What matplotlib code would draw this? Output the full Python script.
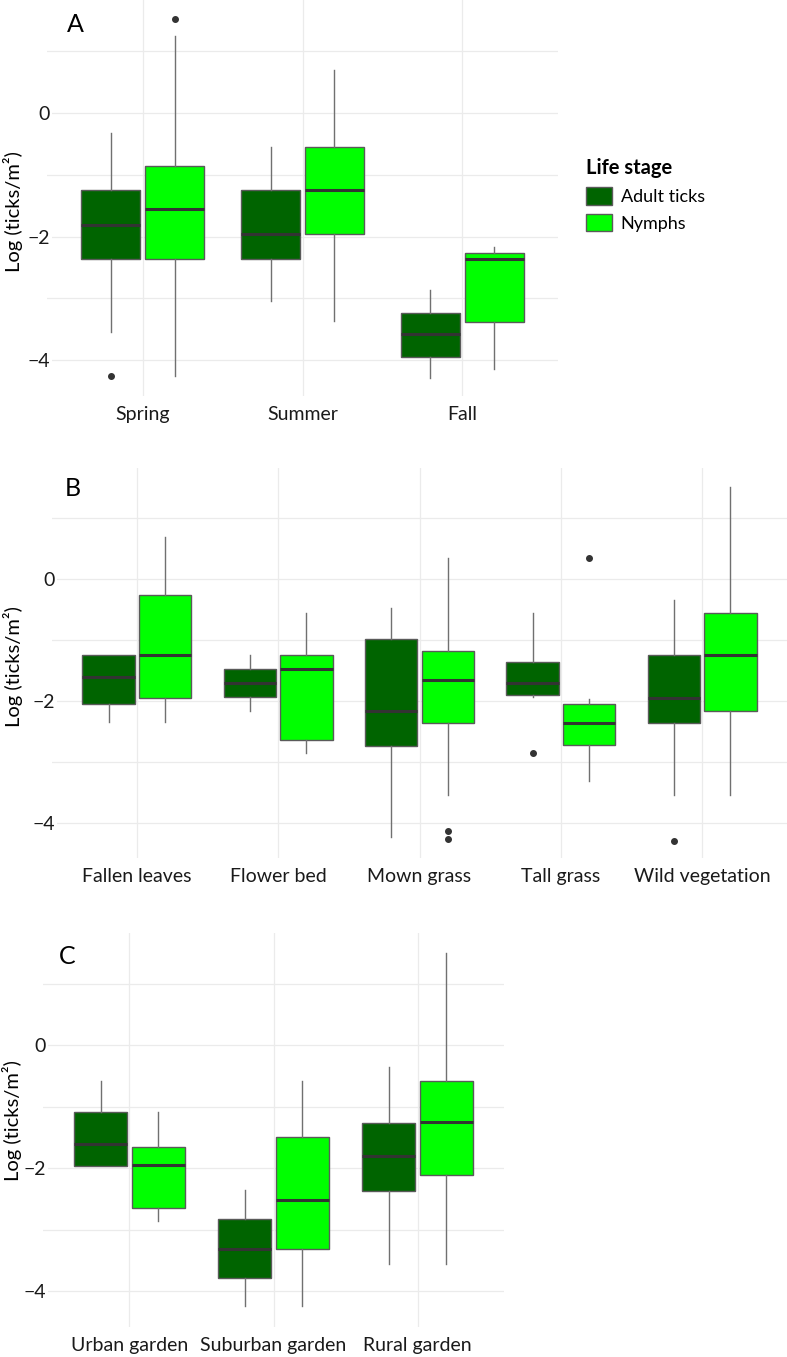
import numpy as np
import matplotlib
matplotlib.use("Agg")
import matplotlib.pyplot as plt
from matplotlib.patches import Patch

plt.rcParams['font.family'] = ['Lato', 'DejaVu Sans']

# each row: lower whisker, Q1, median, Q3, upper whisker
seasons = ["Spring", "Summer", "Fall"]
season_adult = [[-3.55, -2.36, -1.82, -1.25, -0.33],
                [-3.05, -2.36, -1.95, -1.25, -0.55],
                [-4.29, -3.95, -3.58, -3.23, -2.87]]
season_adult_out = [[-4.26], [], []]
season_nymph = [[-4.25, -2.36, -1.55, -0.85, 1.24],
                [-3.37, -1.96, -1.25, -0.55, 0.70],
                [-4.14, -3.38, -2.36, -2.27, -2.17]]
season_nymph_out = [[1.52], [], []]

habitats = ["Fallen leaves", "Flower bed", "Mown grass", "Tall grass", "Wild vegetation"]
habitat_adult = [[-2.35, -2.05, -1.60, -1.25, -1.25],
                 [-2.16, -1.93, -1.71, -1.47, -1.25],
                 [-4.24, -2.74, -2.16, -0.98, -0.47],
                 [-1.93, -1.90, -1.71, -1.36, -0.55],
                 [-3.55, -2.36, -1.95, -1.25, -0.34]]
habitat_adult_out = [[], [], [], [-2.86], [-4.30]]
habitat_nymph = [[-2.35, -1.95, -1.24, -0.26, 0.69],
                 [-2.85, -2.64, -1.47, -1.25, -0.55],
                 [-3.55, -2.36, -1.65, -1.17, 0.35],
                 [-3.32, -2.73, -2.36, -2.05, -1.96],
                 [-3.55, -2.17, -1.25, -0.56, 1.51]]
habitat_nymph_out = [[], [], [-4.14, -4.26], [0.35], []]

gardens = ["Urban garden", "Suburban garden", "Rural garden"]
garden_adult = [[-1.96, -1.96, -1.60, -1.08, -0.58],
                [-4.24, -3.78, -3.31, -2.83, -2.35],
                [-3.56, -2.36, -1.79, -1.26, -0.35]]
garden_adult_out = [[], [], []]
garden_nymph = [[-2.85, -2.65, -1.95, -1.65, -1.08],
                [-4.24, -3.31, -2.52, -1.49, -0.58],
                [-3.56, -2.10, -1.25, -0.58, 1.50]]
garden_nymph_out = [[], [], []]

stages = ["Adult ticks", "Nymphs"]
colors = ["#006400", "#00FF00"]

W, H = 787, 1357


def fx(px):
    return px / W


def fy(py):
    return 1 - py / H


def make_stats(rows, outs):
    stats = []
    for r, o in zip(rows, outs):
        stats.append(dict(whislo=r[0], q1=r[1], med=r[2], q3=r[3], whishi=r[4], fliers=o))
    return stats


def draw_panel(rect, cats, adult, adult_out, nymph, nymph_out, letter, letter_xy, ylab_xy):
    left, top, right, bottom = rect
    ax = fig.add_axes([fx(left), fy(bottom), fx(right - left), (bottom - top) / H])
    pos = np.arange(len(cats))
    for rows, outs, off, col in [(adult, adult_out, -0.2, colors[0]), (nymph, nymph_out, 0.2, colors[1])]:
        ax.bxp(make_stats(rows, outs), positions=pos + off, widths=0.37,
               patch_artist=True, showcaps=False, manage_ticks=False,
               boxprops=dict(facecolor=col, edgecolor="#5a5a5a", linewidth=1.0),
               medianprops=dict(color="#333333", linewidth=2.2),
               whiskerprops=dict(color="#707070", linewidth=1.0),
               flierprops=dict(marker="o", markersize=4, markerfacecolor="#333333",
                               markeredgecolor="#333333"))
    ax.set_xlim(-0.6, len(cats) - 0.4)
    ax.set_ylim(-4.58, 1.83)
    ax.set_xticks(pos)
    ax.set_xticklabels(cats)
    ax.set_yticks([-4, -2, 0])
    ax.set_yticks([-3, -1, 1], minor=True)
    ax.grid(True, which="both", color="#ebebeb", linewidth=0.9)
    ax.set_axisbelow(True)
    for s in ax.spines.values():
        s.set_visible(False)
    ax.tick_params(axis="both", which="both", length=0, labelsize=14, labelcolor="#1a1a1a")
    ax.tick_params(axis="y", pad=-2)
    ax.tick_params(axis="x", pad=7)
    for lab in ax.get_yticklabels():
        lab.set_bbox(dict(facecolor="white", edgecolor="none", pad=1.5))
    fig.text(fx(letter_xy[0]), fy(letter_xy[1]), letter, fontsize=18, ha="center", va="center")
    fig.text(fx(ylab_xy[0]), fy(ylab_xy[1]), "Log (ticks/m²)", fontsize=14.5,
             rotation=90, ha="center", va="center")
    return ax


fig = plt.figure(figsize=(W / 100, H / 100), dpi=100)

draw_panel((47, 0, 558, 396), seasons, season_adult, season_adult_out,
           season_nymph, season_nymph_out, "A", (75, 25), (13, 212))
draw_panel((52, 468, 787, 858), habitats, habitat_adult, habitat_adult_out,
           habitat_nymph, habitat_nymph_out, "B", (73, 488), (13, 667))
draw_panel((43, 933, 504, 1327), gardens, garden_adult, garden_adult_out,
           garden_nymph, garden_nymph_out, "C", (67, 957), (12, 1121))

handles = [Patch(facecolor=c, edgecolor="#5a5a5a", label=s) for c, s in zip(colors, stages)]
leg = fig.legend(handles=handles, title="Life stage", loc="upper left",
                 bbox_to_anchor=(fx(570), fy(142)), frameon=False, fontsize=13,
                 title_fontproperties=dict(weight="bold", size=14.5),
                 handlelength=1.4, handleheight=1.1, handletextpad=0.5, labelspacing=0.5)
leg._legend_box.align = "left"

fig.savefig("out.png", dpi=100)
